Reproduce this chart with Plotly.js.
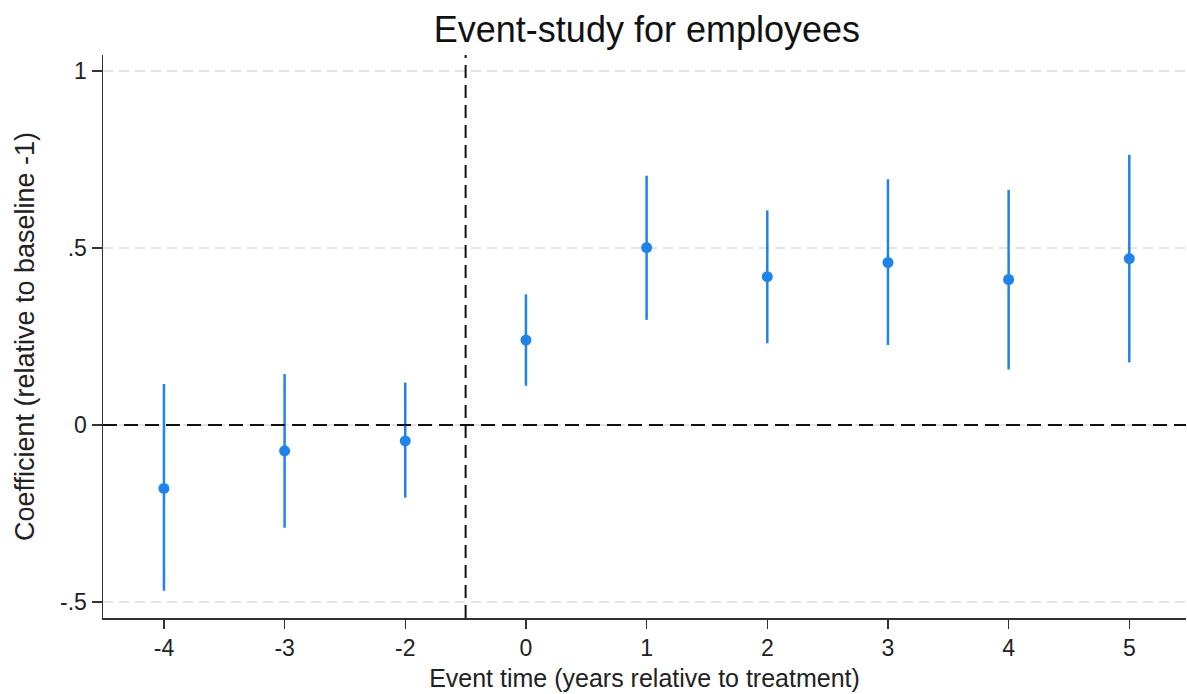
<!DOCTYPE html>
<html>
<head>
<meta charset="utf-8">
<script src="https://cdn.plot.ly/plotly-3.0.1.min.js"></script>
<style>html,body{margin:0;padding:0;background:#fff;}#chart{width:1187px;height:694px;}</style>
</head>
<body>
<div id="chart"></div>
<script>
const eventTimes = ["-4", "-3", "-2", "0", "1", "2", "3", "4", "5"];
const coefficients = [-0.179, -0.073, -0.045, 0.240, 0.501, 0.419, 0.459, 0.411, 0.470];
const ciUpper = [0.116, 0.144, 0.120, 0.369, 0.704, 0.606, 0.694, 0.664, 0.763];
const ciLower = [-0.468, -0.290, -0.205, 0.111, 0.297, 0.231, 0.226, 0.157, 0.177];
const yTickVals = [-0.5, 0, 0.5, 1];
const yTickText = ["-.5", "0", ".5", "1"];
const treatmentBreak = 2.5; // between "-2" and "0"

const xIdx = eventTimes.map((_, i) => i);
const errPlus = ciUpper.map((u, i) => u - coefficients[i]);
const errMinus = coefficients.map((c, i) => c - ciLower[i]);

const blue = "#1f83ec";
const fontFam = "Liberation Sans, Arial, sans-serif";

const traces = [{
  type: "scatter",
  mode: "markers",
  x: xIdx,
  y: coefficients,
  marker: {color: blue, size: 11},
  error_y: {type: "data", symmetric: false, array: errPlus, arrayminus: errMinus,
            color: blue, thickness: 2.5, width: 0},
  showlegend: false,
  hoverinfo: "skip"
}];

const layout = {
  width: 1187, height: 694,
  margin: {l: 103, r: 1, t: 55, b: 76},
  paper_bgcolor: "#fff", plot_bgcolor: "#fff",
  font: {family: fontFam, color: "#222", size: 24},
  title: {text: "Event-study for employees", x: 0.545, xanchor: "center", y: 0.957, yanchor: "middle",
          font: {size: 36, color: "#111", family: fontFam}},
  xaxis: {
    range: [-0.505, 8.47], tickvals: xIdx, ticktext: eventTimes,
    showgrid: false, zeroline: false, showline: true, linecolor: "#333", linewidth: 1.5,
    ticks: "outside", ticklen: 9, tickcolor: "#333", tickwidth: 1.5,
    tickfont: {size: 23, color: "#222"},
    title: {text: "Event time (years relative to treatment)", font: {size: 25, color: "#222"}, standoff: 9}
  },
  yaxis: {
    range: [-0.545, 1.045], tickvals: yTickVals, ticktext: yTickText,
    showgrid: true, gridcolor: "#e4e4e4", griddash: "10px,6px", gridwidth: 1.5,
    zeroline: false, showline: true, linecolor: "#333", linewidth: 1.5,
    ticks: "outside", ticklen: 10, tickcolor: "#333", tickwidth: 1.5,
    tickfont: {size: 23, color: "#222"},
    title: {text: "Coefficient (relative to baseline -1)", font: {size: 27, color: "#222"}, standoff: 17}
  },
  shapes: [
    {type: "line", xref: "paper", x0: 0, x1: 1, yref: "y", y0: 0, y1: 0,
     line: {color: "#111", width: 2, dash: "14px,7px"}},
    {type: "line", xref: "x", x0: treatmentBreak, x1: treatmentBreak, yref: "paper", y0: 0, y1: 1,
     line: {color: "#111", width: 2, dash: "13px,7px"}}
  ]
};

Plotly.newPlot("chart", traces, layout, {displayModeBar: false, staticPlot: true});
</script>
</body>
</html>
